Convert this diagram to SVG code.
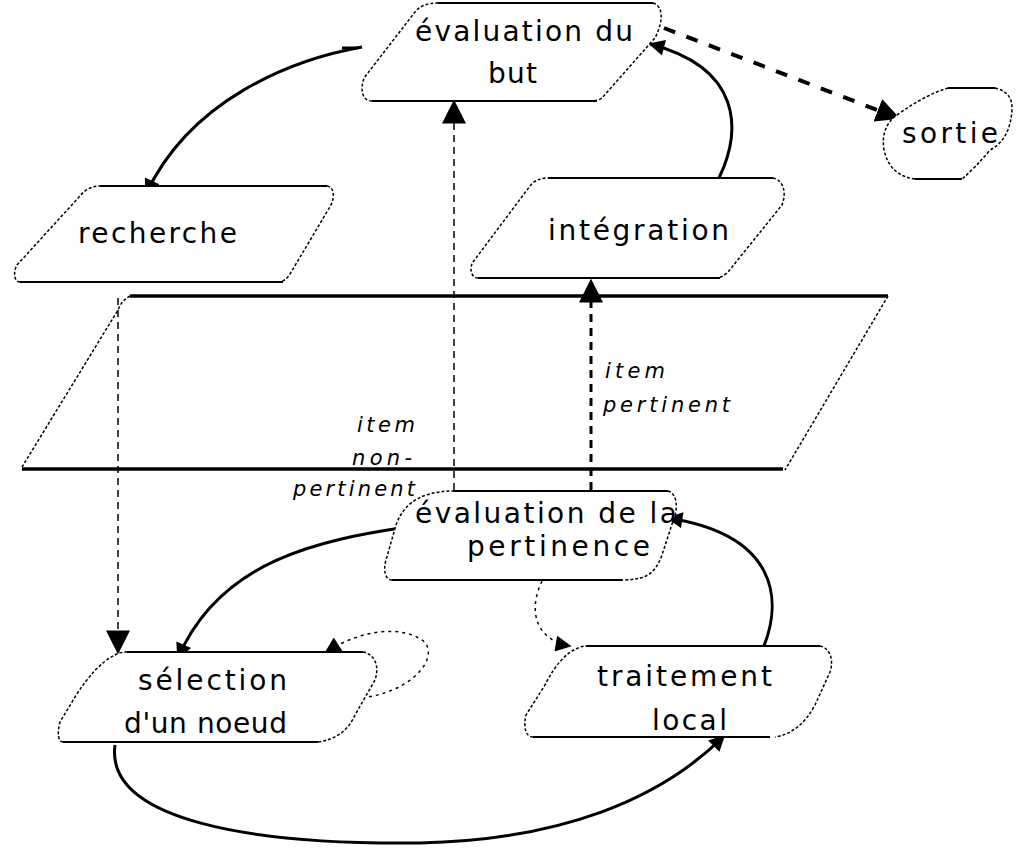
<svg xmlns="http://www.w3.org/2000/svg" width="1018" height="855" viewBox="0 0 1018 855">
<defs>
<style>
.fill{fill:#fff;stroke:none}
.edge{fill:none;stroke:#000;stroke-width:2}
.side{fill:none;stroke:#000;stroke-width:1.5;stroke-dasharray:3 2}
.lbl{font-family:"DejaVu Sans","Liberation Sans",sans-serif;font-size:28px;fill:#000}
.it{font-family:"DejaVu Sans","Liberation Sans",sans-serif;font-size:21px;font-style:italic;fill:#000}
.solid{fill:none;stroke:#000;stroke-width:3}
.dash{fill:none;stroke:#000;stroke-width:1.5;stroke-dasharray:7 5}
.dashb{fill:none;stroke:#000;stroke-width:3;stroke-dasharray:8 6}
.dashc{fill:none;stroke:#000;stroke-width:4;stroke-dasharray:12 12}
.dot{fill:none;stroke:#000;stroke-width:1.5;stroke-dasharray:3 4}
.plane{fill:none;stroke:#000;stroke-width:3.5}
</style>
<marker id="ah" viewBox="0 0 10 10" refX="9" refY="5" markerUnits="userSpaceOnUse" markerWidth="24" markerHeight="24" orient="auto"><path d="M0,0 L10,5 L0,10 Z" fill="#000"/></marker>
<marker id="ahs" viewBox="0 0 10 10" refX="9" refY="5" markerUnits="userSpaceOnUse" markerWidth="20" markerHeight="16" orient="auto"><path d="M0,0 L10,5 L0,10 Z" fill="#000"/></marker>
</defs>
<rect width="1018" height="855" fill="#fff"/>

<g id="plan">
<path d="M130,296 H888" class="plane"/>
<path d="M22,469 H783" class="plane"/>
<path d="M130,296 Q122,300 118,310 L22,467" class="side"/>
<path d="M888,296 L785,470" class="side"/>
</g>

<g id="connectors">
<path d="M362,47 C290,60 190,100 146,194" class="solid" marker-end="url(#ahs)"/>
<path d="M342,48 H358" class="solid"/>
<path d="M118,298 V652" class="dash" marker-end="url(#ah)"/>
<path d="M454,490 V102" class="dash" marker-end="url(#ah)"/>
<path d="M591,490 V281" class="dashb" marker-end="url(#ah)"/>
<path d="M719,178 C742,130 742,68 650,44" class="solid" marker-end="url(#ahs)"/>
<path d="M664,28 L898,118" class="dashc" marker-end="url(#ah)"/>
<path d="M407,527 C320,540 220,560 178,658" class="solid" marker-end="url(#ahs)"/>
<path d="M362,698 C420,690 440,652 422,640 C400,625 360,630 326,652" class="dot" marker-end="url(#ahs)"/>
<path d="M115,745 C105,820 250,845 420,843 C560,840 660,800 724,736" class="solid" marker-end="url(#ahs)"/>
<path d="M542,581 C528,610 535,640 570,646" class="dot" marker-end="url(#ahs)"/>
<path d="M764,646 C782,600 778,535 668,518" class="solid" marker-end="url(#ahs)"/>
</g>

<g id="evaluation-but">
<path class="fill" d="M438,3 H653 C663,6 664,20 655,38 L602,98 Q598,101 590,101 H372 C362,101 360,90 364,78 L415,12 Q422,3 438,3 Z"/>
<path class="edge" d="M438,3 H653 M372,101 H597"/>
<path class="side" d="M653,3 C663,6 664,20 655,38 L602,98 Q598,101 590,101 M372,101 C362,101 360,90 364,78 L415,12 Q422,3 438,3"/>
<text class="lbl" x="415" y="41" textLength="218" lengthAdjust="spacing">évaluation du</text>
<text class="lbl" x="488" y="83" textLength="49" lengthAdjust="spacing">but</text>
</g>

<g id="recherche">
<path class="fill" d="M100,186 H327 C334,187 335,196 331,205 L290,274 Q285,282 278,282 H20 C14,282 13,272 17,265 L80,196 Q88,186 100,186 Z"/>
<path class="edge" d="M100,186 H327 M20,282 H283"/>
<path class="side" d="M327,186 C334,187 335,196 331,205 L290,274 Q285,282 278,282 M20,282 C14,282 13,272 17,265 L80,196 Q88,186 100,186"/>
<text class="lbl" x="78" y="243" textLength="159" lengthAdjust="spacing">recherche</text>
</g>

<g id="integration">
<path class="fill" d="M548,178 H773 C783,180 787,192 782,205 L728,272 Q722,278 715,278 H478 C471,278 469,268 473,262 L530,186 Q536,178 548,178 Z"/>
<path class="edge" d="M548,178 H773 M478,278 H720"/>
<path class="side" d="M773,178 C783,180 787,192 782,205 L728,272 Q722,278 715,278 M478,278 C471,278 469,268 473,262 L530,186 Q536,178 548,178"/>
<text class="lbl" x="548" y="240" textLength="181" lengthAdjust="spacing">intégration</text>
</g>

<g id="sortie">
<path class="fill" d="M948,88 H995 Q1013,92 1012,110 Q1010,140 990,150 Q975,168 962,179 H915 Q890,176 884,150 Q880,125 900,113 Q925,95 948,88 Z"/>
<path class="edge" d="M948,88 H995 M915,179 H962"/>
<path class="side" d="M995,88 Q1013,92 1012,110 Q1010,140 990,150 Q975,168 962,179 M915,179 Q890,176 884,150 Q880,125 900,113 Q925,95 948,88"/>
<text class="lbl" x="902" y="143" textLength="96" lengthAdjust="spacing">sortie</text>
</g>

<g id="labels">
<text class="it" x="357" y="432" textLength="58" lengthAdjust="spacing">item</text>
<text class="it" x="352" y="465" textLength="60" lengthAdjust="spacing">non-</text>
<text class="it" x="293" y="496" textLength="122" lengthAdjust="spacing">pertinent</text>
<text class="it" x="605" y="378" textLength="60" lengthAdjust="spacing">item</text>
<text class="it" x="603" y="412" textLength="127" lengthAdjust="spacing">pertinent</text>
</g>

<g id="evaluation-pertinence">
<path class="fill" d="M453,491 H668 C676,493 678,505 675,515 L662,555 Q655,575 640,578 Q632,580 622,580 H392 C385,580 383,570 386,560 L396,525 Q405,500 430,494 Q440,491 453,491 Z"/>
<path class="edge" d="M453,491 H668 M392,580 H622"/>
<path class="side" d="M668,491 C676,493 678,505 675,515 L662,555 Q655,575 640,578 Q632,580 622,580 M392,580 C385,580 383,570 386,560 L396,525 Q405,500 430,494 Q440,491 453,491"/>
<text class="lbl" x="415" y="523" textLength="262" lengthAdjust="spacing">évaluation de la</text>
<text class="lbl" x="467" y="556" textLength="183" lengthAdjust="spacing">pertinence</text>
</g>

<g id="selection">
<path class="fill" d="M127,652 H363 C374,654 380,665 375,680 L355,715 Q345,738 318,742 H63 C58,742 57,733 60,722 L75,697 Q95,665 115,655 Q120,652 127,652 Z"/>
<path class="edge" d="M127,652 H363 M63,742 H318"/>
<path class="side" d="M363,652 C374,654 380,665 375,680 L355,715 Q345,738 318,742 M63,742 C58,742 57,733 60,722 L75,697 Q95,665 115,655 Q120,652 127,652"/>
<text class="lbl" x="138" y="690" textLength="149" lengthAdjust="spacing">sélection</text>
<text class="lbl" x="124" y="733" textLength="163" lengthAdjust="spacing">d'un noeud</text>
</g>

<g id="traitement">
<path class="fill" d="M586,646 H820 C830,648 834,660 830,672 L815,705 Q800,733 775,737 H533 C526,737 523,728 526,715 L545,685 Q560,655 578,648 Q582,646 586,646 Z"/>
<path class="edge" d="M586,646 H820 M533,737 H770"/>
<path class="side" d="M820,646 C830,648 834,660 830,672 L815,705 Q800,733 775,737 M533,737 C526,737 523,728 526,715 L545,685 Q560,655 578,648 Q582,646 586,646"/>
<text class="lbl" x="597" y="686" textLength="175" lengthAdjust="spacing">traitement</text>
<text class="lbl" x="652" y="730" textLength="75" lengthAdjust="spacing">local</text>
</g>
</svg>
